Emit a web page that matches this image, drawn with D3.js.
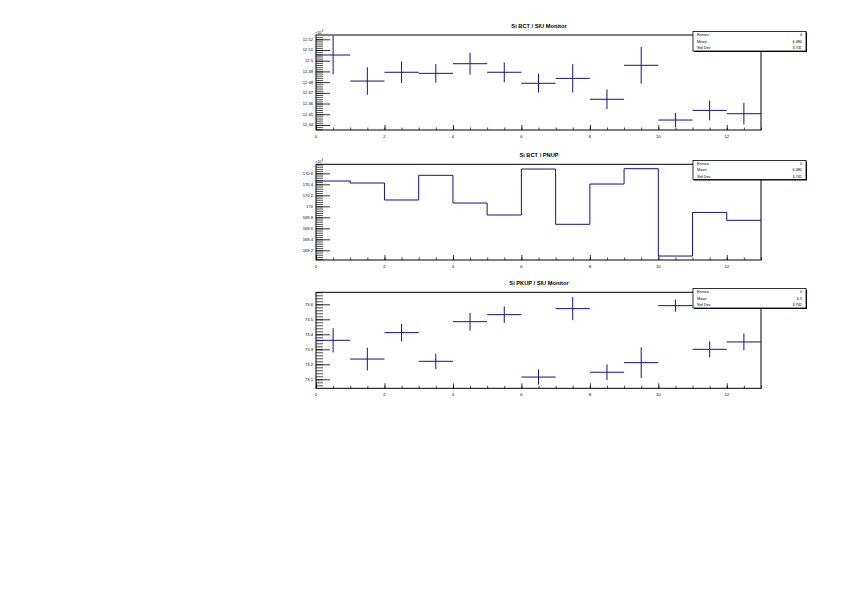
<!DOCTYPE html>
<html><head><meta charset="utf-8">
<script src="https://cdn.jsdelivr.net/npm/d3@7"></script>
<style>body{margin:0;background:#fff;}svg{display:block;font-family:"Liberation Sans",Arial,sans-serif;}</style>
</head><body><svg id="c" width="842" height="595"></svg>
<script>
// ---- data ----
const binEdges = [0,1,2,3,4,5,6,7,8,9,10,11,12,13];
const xTickLabels = [0,2,4,6,8,10,12];
const titles = ["Si BCT / SIU Monitor", "Si BCT / PNUP", "Si PKUP / SIU Monitor"];
const siuValues = [12505.3,12481.0,12489.2,12488.2,12497.2,12489.2,12478.9,12483.5,12464.0,12495.7,12444.6,12453.6,12450.5];
const siuErrors = [18,12.8,10,8.6,10.3,9.3,8.7,13.3,9.2,17.1,6.7,9.3,10];
const pnupValues = [170460,170424,170115,170564,170060,169842,170678,169673,170405,170684,169096,169889,169745];
const pkupValues = [73.36,73.235,73.411,73.22,73.484,73.531,73.115,73.571,73.147,73.211,73.591,73.3,73.349];
const pkupErrors = [0.081,0.076,0.059,0.051,0.059,0.055,0.05,0.077,0.052,0.102,0.041,0.053,0.056];
const siuTicks = [12440,12450,12460,12470,12480,12490,12500,12510,12520];
const pnupTicks = [169200,169400,169600,169800,170000,170200,170400,170600];
const pkupTicks = [73.1,73.2,73.3,73.4,73.5,73.6];
const statLabels = ["Entries","Mean","Std Dev"];
const statValues = [["0","6.480","3.741"],["0","6.480","3.741"],["0","6.9","3.742"]];

// ---- layout ----
const svg = d3.select("#c");
const x0 = 316, x1 = 761;
const lineCol = "#12128c";
const pads = [
  {title:titles[0], top:35, bottom:130, domain:[12435.3,12524], ticks:siuTicks, minor:2, scale1000:true, vals:siuValues, errs:siuErrors, type:"err", stats:statValues[0], box:[693,31.5,806,51]},
  {title:titles[1], top:164.3, bottom:260, domain:[169024,170764], ticks:pnupTicks, minor:40, scale1000:true, vals:pnupValues, type:"hist", stats:statValues[1], box:[693,160.5,806,179.5]},
  {title:titles[2], top:292.3, bottom:388.3, domain:[73.04,73.68], ticks:pkupTicks, minor:0.02, scale1000:false, vals:pkupValues, errs:pkupErrors, type:"err", stats:statValues[2], box:[693,288.5,806,308]}
];

pads.forEach(p => {
  const g = svg.append("g");
  const x = d3.scaleLinear().domain([binEdges[0], binEdges[binEdges.length-1]]).range([x0,x1]);
  const y = d3.scaleLinear().domain(p.domain).range([p.bottom,p.top]);

  // frame
  g.append("rect").attr("x",x0).attr("y",p.top).attr("width",x1-x0).attr("height",p.bottom-p.top)
    .attr("fill","none").attr("stroke","#000").attr("stroke-width",1);

  // y axis with inward ticks
  const yAxis = d3.axisRight(y).tickValues(p.ticks).tickSize(14).tickFormat("");
  g.append("g").attr("transform",`translate(${x0},0)`).call(yAxis)
    .call(s=>s.select(".domain").remove())
    .call(s=>s.selectAll("line").attr("stroke","#000").attr("stroke-width",0.8));
  const minorVals = d3.range(Math.ceil(p.domain[0]/p.minor)*p.minor, p.domain[1], p.minor);
  const yMinor = d3.axisRight(y).tickValues(minorVals).tickSize(7).tickFormat("");
  g.append("g").attr("transform",`translate(${x0},0)`).call(yMinor)
    .call(s=>s.select(".domain").remove())
    .call(s=>s.selectAll("line").attr("stroke","#000").attr("stroke-width",0.7));
  // y labels
  g.selectAll(".yl").data(p.ticks).join("text")
    .attr("x",x0-3).attr("y",d=>y(d)+1.5).attr("text-anchor","end")
    .attr("font-size",4.1).attr("fill","#000")
    .text(d=> p.scale1000 ? d3.format("~g")(+(d/1000).toFixed(3)) : d3.format("~g")(d));
  if (p.scale1000) {
    const t = g.append("text").attr("x",x0-1).attr("y",p.top-1.5).attr("font-size",3.8);
    t.append("tspan").text("×10");
    t.append("tspan").attr("dy",-1.5).attr("font-size",2.8).text("3");
  }

  // x axis ticks
  const xAxis = d3.axisTop(x).tickValues(xTickLabels).tickSize(5).tickFormat("");
  g.append("g").attr("transform",`translate(0,${p.bottom})`).call(xAxis)
    .call(s=>s.select(".domain").remove())
    .call(s=>s.selectAll("line").attr("stroke","#000").attr("stroke-width",0.8));
  const xMinor = d3.axisTop(x).tickValues(d3.range(0,13.01,0.5)).tickSize(2.5).tickFormat("");
  g.append("g").attr("transform",`translate(0,${p.bottom})`).call(xMinor)
    .call(s=>s.select(".domain").remove())
    .call(s=>s.selectAll("line").attr("stroke","#000").attr("stroke-width",0.7));
  g.selectAll(".xl").data(xTickLabels).join("text")
    .attr("x",d=>x(d)).attr("y",p.bottom+7.5).attr("text-anchor","middle")
    .attr("font-size",4.1).text(d=>d);

  // data
  const bins = p.vals.map((v,i)=>({lo:binEdges[i],hi:binEdges[i+1],v:v,e:p.errs?p.errs[i]:0}));
  if (p.type==="err") {
    g.selectAll(".h").data(bins).join("line")
      .attr("x1",d=>x(d.lo)).attr("x2",d=>x(d.hi)).attr("y1",d=>y(d.v)).attr("y2",d=>y(d.v))
      .attr("stroke",lineCol).attr("stroke-width",1);
    g.selectAll(".v").data(bins).join("line")
      .attr("x1",d=>x((d.lo+d.hi)/2)).attr("x2",d=>x((d.lo+d.hi)/2))
      .attr("y1",d=>y(d.v-d.e)).attr("y2",d=>y(d.v+d.e))
      .attr("stroke",lineCol).attr("stroke-width",1);
  } else {
    const pts = [];
    bins.forEach(d=>{ pts.push([d.lo,d.v]); pts.push([d.hi,d.v]); });
    const line = d3.line().x(d=>x(d[0])).y(d=>y(d[1]));
    g.append("path").attr("d",line(pts)).attr("fill","none").attr("stroke",lineCol).attr("stroke-width",1);
  }

  // title
  g.append("text").attr("x",(x0+x1)/2+0.5).attr("y",p.top-7.5).attr("text-anchor","middle")
    .attr("font-size",5.7).attr("font-weight","bold").text(p.title);

  // stats box
  const [bx0,by0,bx1,by1] = p.box;
  g.append("rect").attr("x",bx0+1).attr("y",by0+1).attr("width",bx1-bx0).attr("height",by1-by0).attr("fill","#000");
  g.append("rect").attr("x",bx0).attr("y",by0).attr("width",bx1-bx0).attr("height",by1-by0)
    .attr("fill","#fff").attr("stroke","#000").attr("stroke-width",0.8);
  const rowH = (by1-by0)/3;
  statLabels.forEach((lab,i)=>{
    g.append("text").attr("x",bx0+4).attr("y",by0+rowH*(i+0.5)+1.4).attr("font-size",3.8).text(lab);
    g.append("text").attr("x",bx1-4).attr("y",by0+rowH*(i+0.5)+1.4).attr("font-size",3.8).attr("text-anchor","end").text(p.stats[i]);
  });
});
</script></body></html>
